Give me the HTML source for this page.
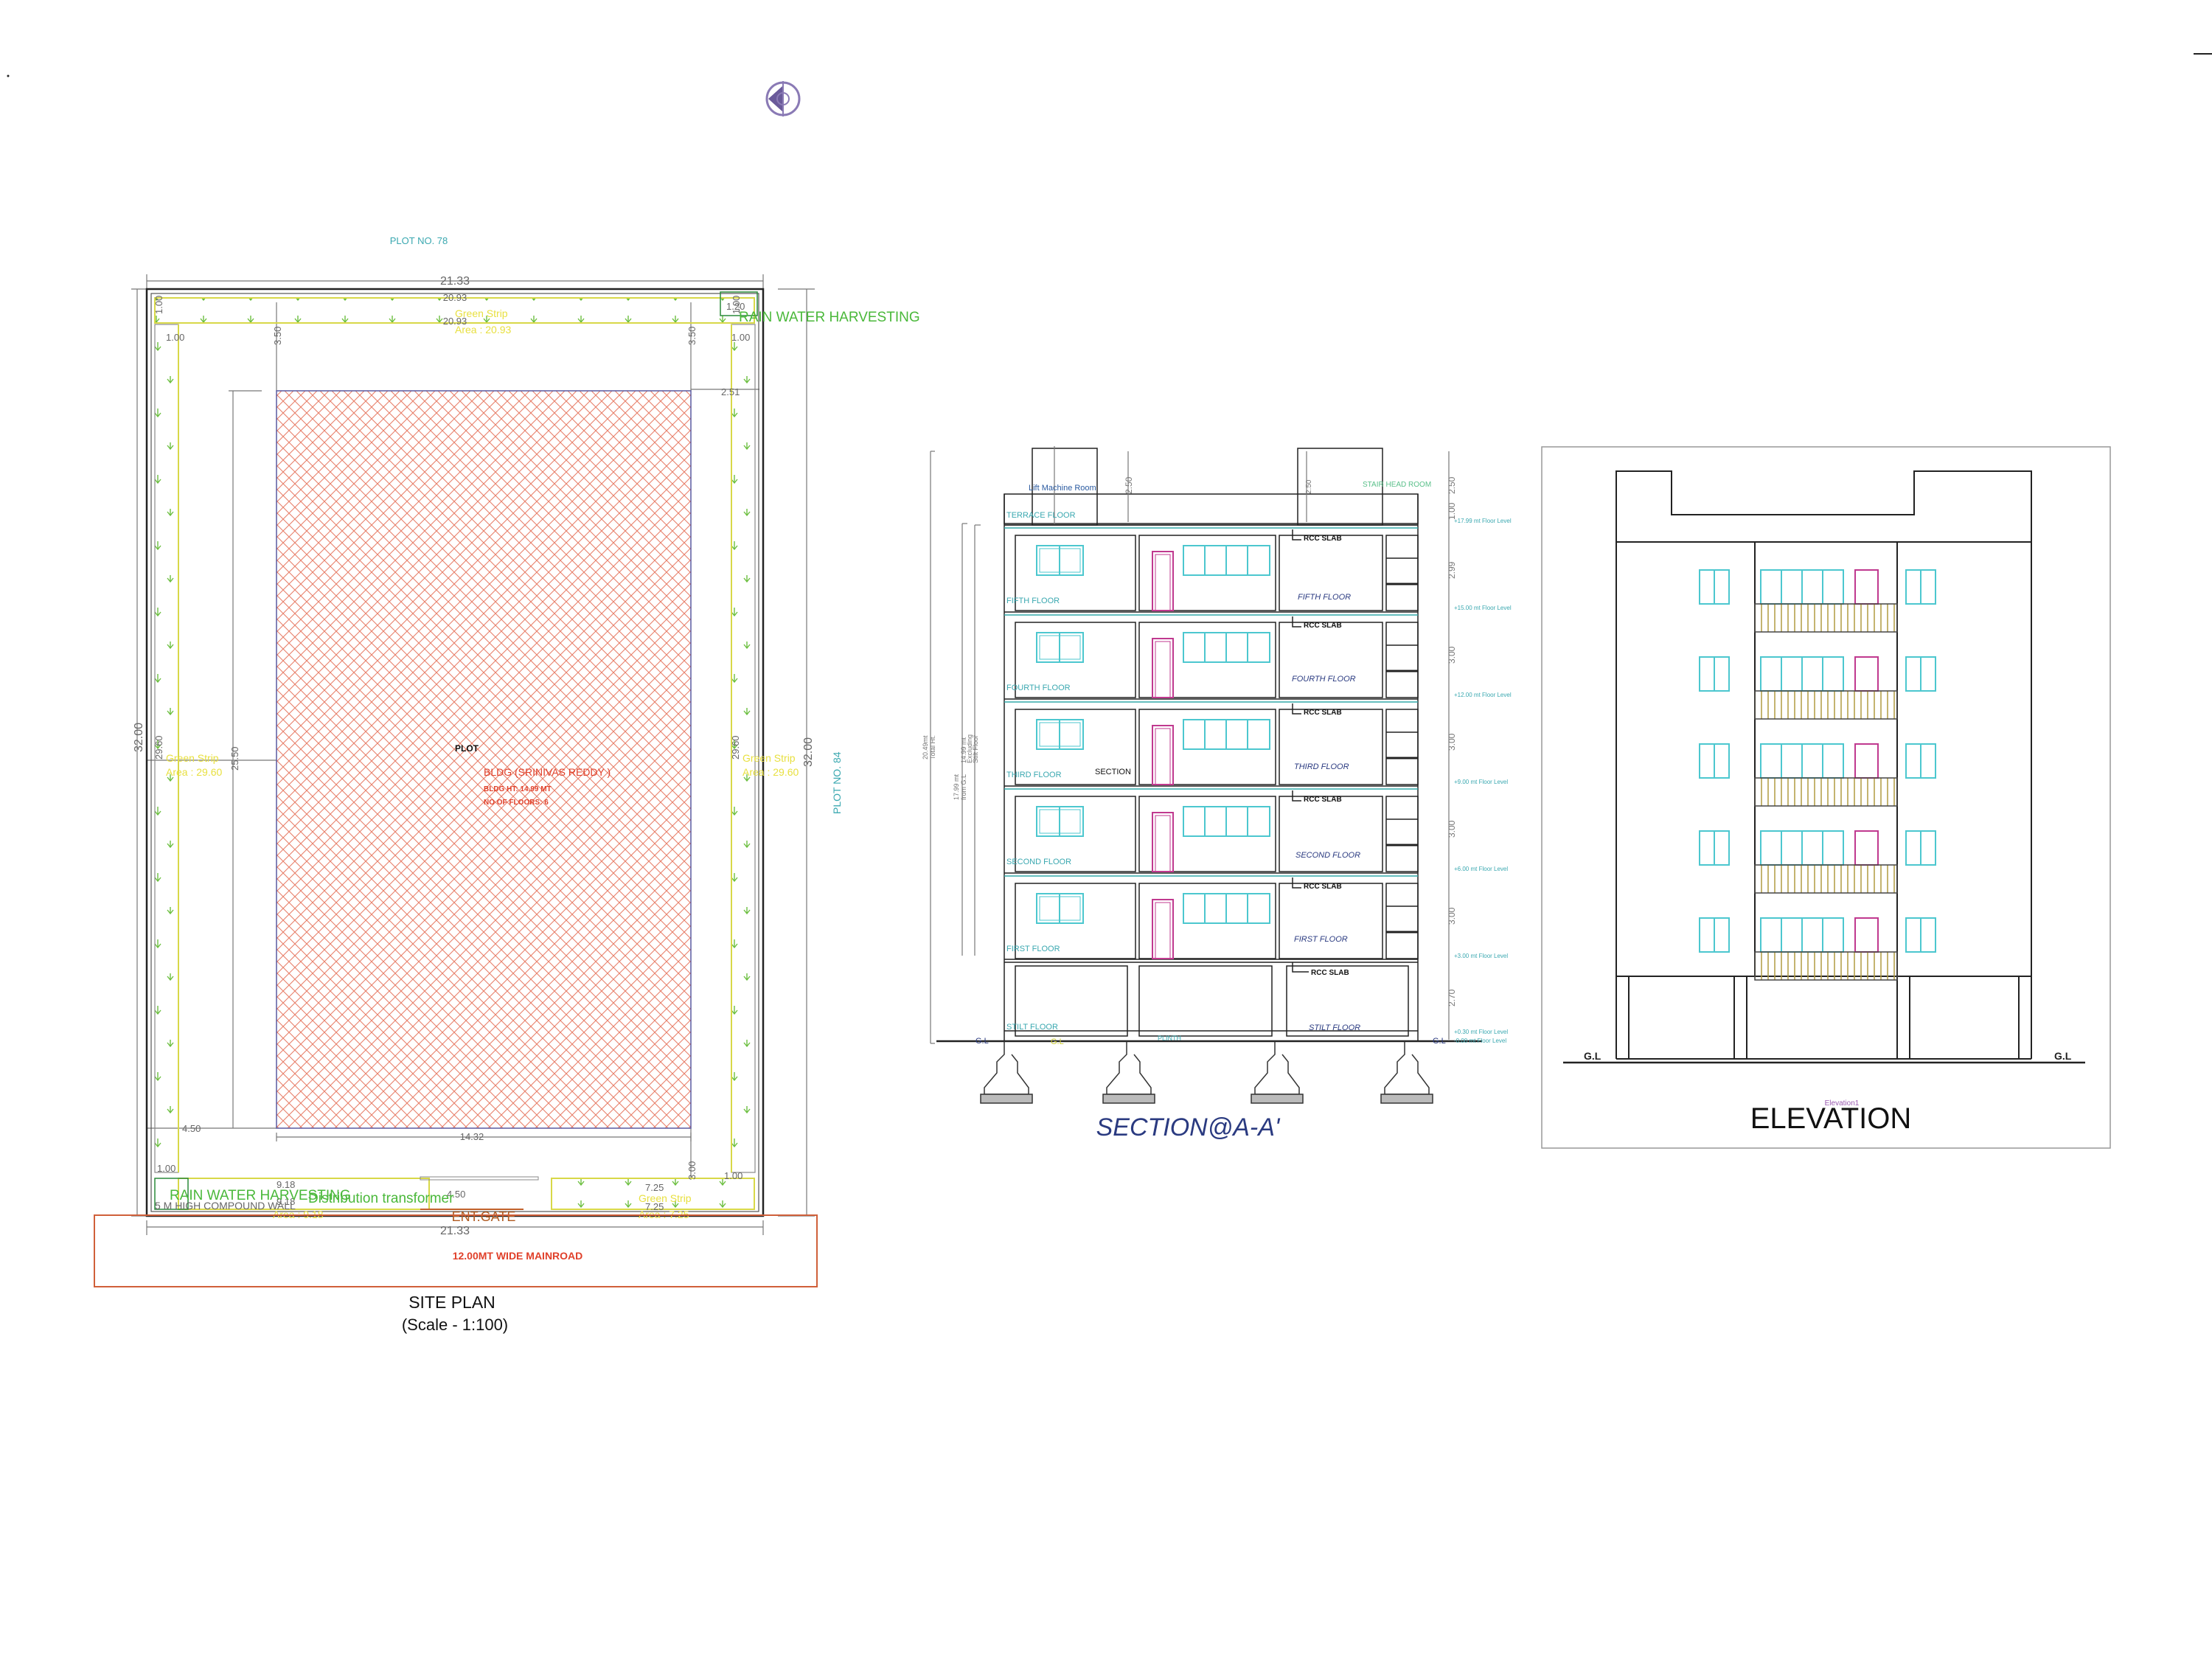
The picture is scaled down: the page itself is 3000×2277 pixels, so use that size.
<!DOCTYPE html>
<html><head><meta charset="utf-8"><style>
html,body{margin:0;padding:0;background:#fff;}
svg{display:block;}
text{font-family:"Liberation Sans",sans-serif;}
</style></head><body>
<svg width="3000" height="2277" viewBox="0 0 3000 2277" xmlns="http://www.w3.org/2000/svg">
<defs>
<pattern id="hatch" width="16" height="16" patternUnits="userSpaceOnUse">
<path d="M0,0 L16,16 M16,0 L0,16" stroke="#e8806a" stroke-width="1.1"/>
</pattern>
<pattern id="arrV" width="34" height="90" patternUnits="userSpaceOnUse">
<path d="M10,14 L10,24 M6,20 L10,25 L14,20" stroke="#6cbf40" stroke-width="1.4" fill="none"/>
<path d="M27,60 L27,68 M23,64 L27,69 L31,64" stroke="#6cbf40" stroke-width="1.4" fill="none"/>
</pattern>
<pattern id="arrH" width="64" height="30" patternUnits="userSpaceOnUse">
<path d="M20,8 L20,16 M16,12 L20,17 L24,12" stroke="#6cbf40" stroke-width="1.4" fill="none"/>
</pattern>
<pattern id="rail" width="9" height="40" patternUnits="userSpaceOnUse">
<line x1="4" y1="0" x2="4" y2="40" stroke="#b09a40" stroke-width="1.5"/>
</pattern>

<g id="sfloor" fill="none" stroke="#222" stroke-width="1.5">
<line x1="1362" y1="0" x2="1923" y2="0"/>
<line x1="1362" y1="4" x2="1923" y2="4" stroke="#3aa"/>
<rect x="1377" y="14" width="163" height="102"/>
<rect x="1545" y="14" width="185" height="102"/>
<rect x="1735" y="14" width="140" height="102"/>
<rect x="1880" y="14" width="43" height="102"/>
<line x1="1880" y1="45" x2="1923" y2="45"/>
<line x1="1880" y1="80" x2="1923" y2="80" stroke-width="3"/>
<rect x="1406" y="28" width="63" height="40" stroke="#4cc7cf" stroke-width="2"/>
<rect x="1410" y="32" width="55" height="32" stroke="#4cc7cf" stroke-width="1"/>
<line x1="1437" y1="28" x2="1437" y2="68" stroke="#4cc7cf" stroke-width="2"/>
<rect x="1563" y="36" width="28" height="80" stroke="#c0398f" stroke-width="2"/>
<rect x="1567" y="40" width="20" height="76" stroke="#c0398f" stroke-width="1"/>
<rect x="1605" y="28" width="117" height="40" stroke="#4cc7cf" stroke-width="2"/>
<line x1="1634" y1="28" x2="1634" y2="68" stroke="#4cc7cf" stroke-width="2"/>
<line x1="1663" y1="28" x2="1663" y2="68" stroke="#4cc7cf" stroke-width="2"/>
<line x1="1692" y1="28" x2="1692" y2="68" stroke="#4cc7cf" stroke-width="2"/>
<path d="M1753,6 L1753,20 L1765,20"/>
</g>

<g id="efloor" fill="none" stroke-width="2">
<rect x="2305" y="0" width="40" height="46" stroke="#4cc7cf"/>
<line x1="2325" y1="0" x2="2325" y2="46" stroke="#4cc7cf"/>
<rect x="2585" y="0" width="40" height="46" stroke="#4cc7cf"/>
<line x1="2605" y1="0" x2="2605" y2="46" stroke="#4cc7cf"/>
<rect x="2388" y="0" width="112" height="46" stroke="#4cc7cf"/>
<line x1="2416" y1="0" x2="2416" y2="46" stroke="#4cc7cf"/>
<line x1="2444" y1="0" x2="2444" y2="46" stroke="#4cc7cf"/>
<line x1="2472" y1="0" x2="2472" y2="46" stroke="#4cc7cf"/>
<rect x="2516" y="0" width="31" height="46" stroke="#c0398f"/>
<rect x="2380" y="46" width="193" height="38" fill="url(#rail)" stroke="#444" stroke-width="1.5"/>
</g>
</defs>

<line x1="2975" y1="73" x2="3000" y2="73" stroke="#222" stroke-width="2"/>
<circle cx="11" cy="103" r="1.5" fill="#222"/>
<g transform="translate(1062,134)">
<circle r="22" fill="none" stroke="#8a7ab5" stroke-width="3"/>
<path d="M-20,0 L0,-18 L0,18 Z" fill="#6a5a9a"/>
<circle r="8" fill="none" stroke="#8a7ab5" stroke-width="2"/>
<line x1="0" y1="-24" x2="0" y2="24" stroke="#8a7ab5" stroke-width="2"/>
</g>

<text x="568" y="331" font-size="13" fill="#3aa8b0" text-anchor="middle">PLOT NO. 78</text>
<g stroke="#777" stroke-width="1.2" fill="none">
<line x1="199" y1="381" x2="1035" y2="381"/>
<line x1="199" y1="372" x2="199" y2="400"/>
<line x1="1035" y1="372" x2="1035" y2="400"/>
<line x1="186" y1="392" x2="186" y2="1649"/>
<line x1="178" y1="392" x2="205" y2="392"/>
<line x1="178" y1="1649" x2="205" y2="1649"/>
<line x1="1094" y1="392" x2="1094" y2="1649"/>
<line x1="1055" y1="392" x2="1105" y2="392"/>
<line x1="1055" y1="1649" x2="1105" y2="1649"/>
<line x1="316" y1="530" x2="316" y2="1530"/>
<line x1="310" y1="530" x2="355" y2="530"/>
<line x1="199" y1="1664" x2="1035" y2="1664"/>
<line x1="199" y1="1655" x2="199" y2="1675"/>
<line x1="1035" y1="1655" x2="1035" y2="1675"/>
<line x1="375" y1="1542" x2="937" y2="1542"/>
<line x1="375" y1="1536" x2="375" y2="1548"/>
<line x1="937" y1="1536" x2="937" y2="1548"/>
<line x1="200" y1="1530" x2="375" y2="1530"/>
<line x1="200" y1="1031" x2="375" y2="1031"/>
<line x1="375" y1="410" x2="375" y2="530"/>
<line x1="937" y1="410" x2="937" y2="530"/>
<line x1="937" y1="528" x2="1030" y2="528"/>
<line x1="937" y1="1530" x2="937" y2="1600"/>
</g>
<rect x="375" y="530" width="562" height="1000" fill="url(#hatch)" stroke="#5a5aa0" stroke-width="1.5"/>
<rect x="199" y="392" width="836" height="1257" fill="none" stroke="#222" stroke-width="2.5"/>
<rect x="205" y="398" width="824" height="1245" fill="none" stroke="#555" stroke-width="1.2"/>
<rect x="210" y="404" width="813" height="34" fill="url(#arrH)" stroke="#d8d848" stroke-width="2"/>
<rect x="210" y="440" width="32" height="1150" fill="url(#arrV)" stroke="#888" stroke-width="1.2"/>
<line x1="242" y1="440" x2="242" y2="1590" stroke="#d8d848" stroke-width="2"/>
<rect x="992" y="440" width="32" height="1150" fill="url(#arrV)" stroke="#888" stroke-width="1.2"/>
<line x1="992" y1="440" x2="992" y2="1590" stroke="#d8d848" stroke-width="2"/>
<rect x="748" y="1598" width="275" height="42" fill="url(#arrH)" stroke="#d8d848" stroke-width="2"/>
<rect x="242" y="1598" width="340" height="42" fill="none" stroke="#d8d848" stroke-width="2"/>
<rect x="210" y="1598" width="45" height="42" fill="none" stroke="#2a8a3a" stroke-width="1.5"/>
<rect x="570" y="1596" width="160" height="4" fill="none" stroke="#888" stroke-width="1"/>
<line x1="570" y1="1640" x2="710" y2="1640" stroke="#c0602a" stroke-width="2"/>
<rect x="977" y="396" width="50" height="32" fill="none" stroke="#2a8a3a" stroke-width="1.5"/>
<g font-size="13" fill="#666">
<text x="617" y="386" text-anchor="middle" font-size="16">21.33</text>
<text x="617" y="408" text-anchor="middle">20.93</text>
<text x="617" y="440" text-anchor="middle">20.93</text>
<text x="225" y="462">1.00</text>
<text x="992" y="462">1.00</text>
<text x="985" y="420">1.20</text>
<text x="978" y="536">2.51</text>
<text x="247" y="1535">4.50</text>
<text x="640" y="1546" text-anchor="middle">14.32</text>
<text x="213" y="1589">1.00</text>
<text x="982" y="1599">1.00</text>
<text x="617" y="1674" text-anchor="middle" font-size="16">21.33</text>
<text x="606" y="1624">4.50</text>
<text x="875" y="1615">7.25</text>
<text x="875" y="1641">7.25</text>
<text x="375" y="1611">9.18</text>
<text x="375" y="1634">9.18</text>
<text x="0" y="0" transform="translate(193,1020) rotate(-90)" font-size="16">32.00</text>
<text x="0" y="0" transform="translate(1101,1040) rotate(-90)" font-size="16">32.00</text>
<text x="0" y="0" transform="translate(323,1045) rotate(-90)">25.50</text>
<text x="0" y="0" transform="translate(220,1030) rotate(-90)">29.60</text>
<text x="0" y="0" transform="translate(1002,1030) rotate(-90)">29.60</text>
<text x="0" y="0" transform="translate(381,468) rotate(-90)">3.50</text>
<text x="0" y="0" transform="translate(943,468) rotate(-90)">3.50</text>
<text x="0" y="0" transform="translate(220,426) rotate(-90)">1.00</text>
<text x="0" y="0" transform="translate(1003,426) rotate(-90)">1.00</text>
<text x="0" y="0" transform="translate(943,1600) rotate(-90)">3.00</text>
</g>
<g font-size="14" fill="#e8e040">
<text x="617" y="430">Green Strip</text>
<text x="617" y="452">Area : 20.93</text>
<text x="225" y="1033">Green Strip</text>
<text x="225" y="1052">Area : 29.60</text>
<text x="1007" y="1033">Green Strip</text>
<text x="1007" y="1052">Area : 29.60</text>
<text x="866" y="1630">Green Strip</text>
<text x="866" y="1652">Area : 7.25</text>
<text x="370" y="1652">Area : 9.18</text>
</g>
<text x="1002" y="436" font-size="19" fill="#4ab83a">RAIN WATER HARVESTING</text>
<text x="230" y="1627" font-size="19" fill="#4ab83a">RAIN WATER HARVESTING</text>
<text x="418" y="1631" font-size="19" fill="#4ab83a">Distribution transformer</text>
<text x="210" y="1640" font-size="14" fill="#666">5 M HIGH COMPOUND WALL</text>
<text x="0" y="0" transform="translate(1140,1104) rotate(-90)" font-size="14" fill="#3aa8b0">PLOT NO. 84</text>
<text x="617" y="1019" font-size="12" fill="#111" font-weight="bold">PLOT</text>
<text x="656" y="1052" font-size="14" fill="#e0402a">BLDG (SRINIVAS REDDY )</text>
<text x="656" y="1073" font-size="10" fill="#e0402a" font-weight="bold">BLDG HT: 14.99 MT</text>
<text x="656" y="1091" font-size="10" fill="#e0402a" font-weight="bold">NO OF FLOORS: 6</text>
<text x="656" y="1656" font-size="18" fill="#b05a20" text-anchor="middle">ENT.GATE</text>
<rect x="128" y="1648" width="980" height="97" fill="none" stroke="#d0603a" stroke-width="2"/>
<text x="702" y="1708" font-size="14" fill="#e0402a" text-anchor="middle" font-weight="bold">12.00MT WIDE MAINROAD</text>
<text x="613" y="1774" font-size="23" fill="#111" text-anchor="middle">SITE PLAN</text>
<text x="617" y="1804" font-size="22" fill="#111" text-anchor="middle">(Scale - 1:100)</text>

<g fill="none" stroke="#222" stroke-width="1.5">
<rect x="1362" y="670" width="561" height="40"/>
<line x1="1362" y1="712" x2="1923" y2="712"/>
<rect x="1400" y="608" width="88" height="104"/>
<rect x="1760" y="608" width="115" height="104"/>
<line x1="1362" y1="670" x2="1362" y2="1412"/>
<line x1="1923" y1="670" x2="1923" y2="1412"/>
<line x1="1362" y1="1301" x2="1923" y2="1301"/>
<line x1="1362" y1="1305" x2="1923" y2="1305"/>
<rect x="1377" y="1310" width="152" height="95"/>
<rect x="1545" y="1310" width="180" height="95"/>
<rect x="1745" y="1310" width="165" height="95"/>
<line x1="1362" y1="1398" x2="1923" y2="1398"/>
<line x1="1270" y1="1412" x2="2010" y2="1412" stroke-width="2.5"/>
<path d="M1753,1305 L1753,1318 L1775,1318"/>
<g stroke="#777" stroke-width="1.2">
<line x1="1262" y1="612" x2="1262" y2="1415"/><line x1="1262" y1="612" x2="1268" y2="612"/><line x1="1262" y1="1415" x2="1268" y2="1415"/>
<line x1="1305" y1="710" x2="1305" y2="1296"/><line x1="1305" y1="710" x2="1312" y2="710"/>
<line x1="1322" y1="712" x2="1322" y2="1296"/><line x1="1322" y1="712" x2="1330" y2="712"/>
<line x1="1965" y1="612" x2="1965" y2="1410"/>
<line x1="1530" y1="612" x2="1530" y2="708"/>
<line x1="1772" y1="612" x2="1772" y2="708"/>
<line x1="1430" y1="605" x2="1430" y2="712"/>
</g>
</g>
<use href="#sfloor" y="712"/>
<use href="#sfloor" y="830"/>
<use href="#sfloor" y="948"/>
<use href="#sfloor" y="1066"/>
<use href="#sfloor" y="1184"/>
<g fill="none" stroke="#333" stroke-width="1.5">
<g id="foot"><path d="M1362,1412 L1362,1430 L1352,1440 L1352,1455 L1335,1475 L1335,1484 L1395,1484 L1395,1475 L1380,1455 L1380,1440 L1372,1430"/><rect x="1330" y="1484" width="70" height="12" fill="#bbb"/></g>
<use href="#foot" x="166"/><use href="#foot" x="367"/><use href="#foot" x="543"/>
</g>
<g font-size="11" fill="#3aa8b0">
<text x="1365" y="702">TERRACE FLOOR</text>
<text x="1365" y="818">FIFTH FLOOR</text>
<text x="1365" y="936">FOURTH FLOOR</text>
<text x="1365" y="1054">THIRD FLOOR</text>
<text x="1365" y="1172">SECOND FLOOR</text>
<text x="1365" y="1290">FIRST FLOOR</text>
<text x="1365" y="1396">STILT FLOOR</text>
<text x="1570" y="1411" font-size="9">PLINTH</text>
<text x="1848" y="660" font-size="10" fill="#5ac08a">STAIR HEAD ROOM</text>
<g font-size="8">
<text x="1972" y="709">+17.99 mt Floor Level</text>
<text x="1972" y="827">+15.00 mt Floor Level</text>
<text x="1972" y="945">+12.00 mt Floor Level</text>
<text x="1972" y="1063">+9.00 mt Floor Level</text>
<text x="1972" y="1181">+6.00 mt Floor Level</text>
<text x="1972" y="1299">+3.00 mt Floor Level</text>
<text x="1972" y="1402">+0.30 mt Floor Level</text>
<text x="1972" y="1414">-0.00 mt Floor Level</text>
</g>
</g>
<text x="1395" y="665" font-size="11" fill="#2a5aa0">Lift Machine Room</text>
<text x="1485" y="1050" font-size="11" fill="#111">SECTION</text>
<text x="1323" y="1415" font-size="11" fill="#2a3a80">G.L</text>
<text x="1943" y="1415" font-size="11" fill="#2a3a80">G.L</text>
<text x="1425" y="1416" font-size="11" fill="#cc3">G.L</text>
<g font-size="10" fill="#111" font-weight="bold">
<text x="1768" y="733">RCC SLAB</text><text x="1768" y="851">RCC SLAB</text><text x="1768" y="969">RCC SLAB</text><text x="1768" y="1087">RCC SLAB</text><text x="1768" y="1205">RCC SLAB</text><text x="1778" y="1322">RCC SLAB</text>
</g>
<g font-size="11" fill="#2a3a80" font-style="italic">
<text x="1760" y="813">FIFTH FLOOR</text>
<text x="1752" y="924">FOURTH FLOOR</text>
<text x="1755" y="1043">THIRD FLOOR</text>
<text x="1757" y="1163">SECOND FLOOR</text>
<text x="1755" y="1277">FIRST FLOOR</text>
<text x="1775" y="1397">STILT FLOOR</text>
</g>
<g font-size="12" fill="#777">
<text transform="translate(1973,705) rotate(-90)">1.00</text>
<text transform="translate(1973,670) rotate(-90)">2.50</text>
<text transform="translate(1973,785) rotate(-90)">2.99</text>
<text transform="translate(1973,900) rotate(-90)">3.00</text>
<text transform="translate(1973,1018) rotate(-90)">3.00</text>
<text transform="translate(1973,1136) rotate(-90)">3.00</text>
<text transform="translate(1973,1254) rotate(-90)">3.00</text>
<text transform="translate(1973,1365) rotate(-90)">2.70</text>
<text transform="translate(1535,670) rotate(-90)">2.50</text>
<text transform="translate(1778,670) rotate(-90)" font-size="10">2.50</text>
<text transform="translate(1258,1030) rotate(-90)" font-size="9">20.49mt</text>
<text transform="translate(1268,1030) rotate(-90)" font-size="9">Total Ht.</text>
<text transform="translate(1300,1085) rotate(-90)" font-size="9">17.99 mt</text>
<text transform="translate(1310,1085) rotate(-90)" font-size="9">from G.L</text>
<text transform="translate(1310,1035) rotate(-90)" font-size="9">14.99 mt</text>
<text transform="translate(1318,1035) rotate(-90)" font-size="9">Excluding</text>
<text transform="translate(1326,1035) rotate(-90)" font-size="9">Stilt Floor</text>
</g>
<text x="1611" y="1540" font-size="34" fill="#2a3a80" font-style="italic" text-anchor="middle">SECTION@A-A'</text>

<rect x="2091" y="606" width="771" height="951" fill="none" stroke="#999" stroke-width="1.5"/>
<g fill="none" stroke="#222" stroke-width="2">
<path d="M2192,735 L2192,639 L2267,639 L2267,698 L2596,698 L2596,639 L2755,639 L2755,735 Z"/>
<rect x="2192" y="735" width="563" height="589"/>
<line x1="2380" y1="735" x2="2380" y2="1324"/>
<line x1="2573" y1="735" x2="2573" y2="1324"/>
<line x1="2192" y1="1324" x2="2192" y2="1436"/>
<line x1="2209" y1="1324" x2="2209" y2="1436"/>
<line x1="2352" y1="1324" x2="2352" y2="1436"/>
<line x1="2369" y1="1324" x2="2369" y2="1436"/>
<line x1="2573" y1="1324" x2="2573" y2="1436"/>
<line x1="2590" y1="1324" x2="2590" y2="1436"/>
<line x1="2738" y1="1324" x2="2738" y2="1436"/>
<line x1="2755" y1="1324" x2="2755" y2="1436"/>
<line x1="2192" y1="1436" x2="2755" y2="1436"/>
<line x1="2120" y1="1441" x2="2828" y2="1441" stroke-width="2.5"/>
</g>
<use href="#efloor" y="773"/>
<use href="#efloor" y="891"/>
<use href="#efloor" y="1009"/>
<use href="#efloor" y="1127"/>
<use href="#efloor" y="1245"/>
<text x="2148" y="1437" font-size="14" font-weight="bold" fill="#222">G.L</text>
<text x="2786" y="1437" font-size="14" font-weight="bold" fill="#222">G.L</text>
<text x="2498" y="1499" font-size="10" fill="#9a5ab0" text-anchor="middle">Elevation1</text>
<text x="2483" y="1530" font-size="40" fill="#111" text-anchor="middle">ELEVATION</text>
</svg>
</body></html>
